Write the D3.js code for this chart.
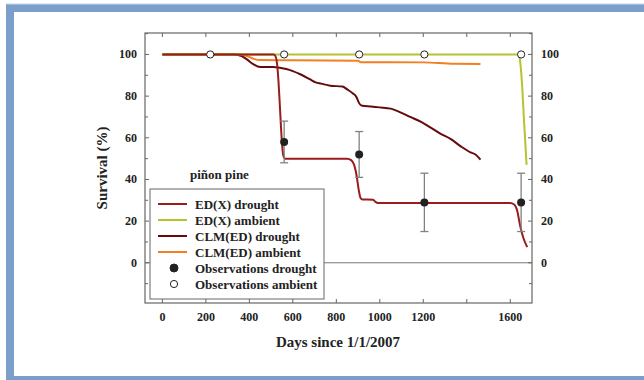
<!DOCTYPE html>
<html lang="en">
<head>
<meta charset="UTF-8">
<title>Survival - piñon pine</title>
<script src="https://d3js.org/d3.v7.min.js"></script>
<style>
    body { margin: 0; background: #fff; }
    svg text { font-family: "Liberation Serif", "Times New Roman", serif; font-weight: bold; fill: #222; }
</style>
</head>
<body>
<svg width="644" height="380"></svg>
<script>
// model curves: [day, survival %]
const edxDrought = [[0,100],[512,100],[520,99.2],[527,96],[534,87],[541,74],[549,59],[556,51.5],[565,50],
    [850,50],[868,49.3],[882,47],[893,42],[903,35],[912,31],[920,30.4],[968,30.3],[978,29.4],[992,28.7],
    [1600,28.7],[1618,28],[1632,25],[1645,18],[1660,12],[1678,7.5]];
const edxAmbient = [[0,100],[1638,100],[1645,97],[1654,86],[1664,67],[1675,47]];
const clmDrought = [[0,100],[330,100],[365,99.2],[390,97.5],[420,95.2],[450,94],[510,94],[540,93.6],
    [570,93],[600,92],[634,90.5],[680,88],[705,86.6],[730,86],[772,85],[828,84.6],[850,83.2],[875,81.4],
    [893,79.5],[903,77],[915,75.5],[960,75],[1000,74.6],[1050,74],[1100,72],[1140,70],[1190,67.6],
    [1232,65],[1278,62],[1325,59.5],[1371,56],[1417,53],[1440,52],[1463,49.5]];
const clmAmbient = [[0,100],[360,100],[390,99.2],[420,97.9],[450,97.3],[600,97.2],[900,97],[912,96.3],
    [1200,96.2],[1340,95.5],[1463,95.4]];

// observations
const obsDroughtDays = [560, 905, 1205, 1650];
const obsDroughtMean = [58, 52, 29, 29];
const obsDroughtLow  = [48, 41, 15, 15];
const obsDroughtHigh = [68, 63, 43, 43];
const obsAmbientDays = [220, 560, 905, 1205, 1650];
const obsAmbientMean = [100, 100, 100, 100, 100];

const xTicks = [0, 200, 400, 600, 800, 1000, 1200, 1400, 1600];
const xTickLabels = ["0", "200", "400", "600", "800", "1000", "1200", "", "1600"];
const yTicks = [0, 20, 40, 60, 80, 100];

const models = [
    { name: "ED(X) drought",  data: edxDrought, color: "#9a1c1c" },
    { name: "ED(X) ambient",  data: edxAmbient, color: "#b5c42e" },
    { name: "CLM(ED) drought", data: clmDrought, color: "#650b0b" },
    { name: "CLM(ED) ambient", data: clmAmbient, color: "#f47f22" }
];

const svg = d3.select("svg");

// blue frame
svg.append("rect").attr("x", 10).attr("y", 8).attr("width", 700).attr("height", 372)
    .attr("fill", "none").attr("stroke", "#7b9fca").attr("stroke-width", 8);
svg.append("line").attr("x1", 6).attr("x2", 644).attr("y1", 4).attr("y2", 4)
    .attr("stroke", "#c5d6ea").attr("stroke-width", 1);

const pLeft = 145, pRight = 532, pTop = 33, pBottom = 303;
const x = d3.scaleLinear().domain([-80, 1700]).range([pLeft, pRight]);
const y = d3.scaleLinear().domain([-19.3, 110.3]).range([pBottom, pTop]);

const axisColor = "#666";

// zero line
svg.append("line")
    .attr("x1", pLeft).attr("x2", pRight)
    .attr("y1", y(0)).attr("y2", y(0))
    .attr("stroke", "#777").attr("stroke-width", 1);

// frame of plot
svg.append("rect").attr("x", pLeft).attr("y", pTop).attr("width", pRight - pLeft).attr("height", pBottom - pTop)
    .attr("fill", "none").attr("stroke", axisColor).attr("stroke-width", 1.2);

// x ticks (inward, top and bottom)
const g = svg.append("g").attr("stroke", axisColor).attr("stroke-width", 1);
xTicks.forEach(t => {
    g.append("line").attr("x1", x(t)).attr("x2", x(t)).attr("y1", pBottom).attr("y2", pBottom - 4);
    g.append("line").attr("x1", x(t)).attr("x2", x(t)).attr("y1", pTop).attr("y2", pTop + 4);
});
// y ticks every 10, inward on both sides
d3.range(-10, 111, 10).forEach(t => {
    const len = t % 20 === 0 ? 4 : 3;
    g.append("line").attr("x1", pLeft).attr("x2", pLeft + len).attr("y1", y(t)).attr("y2", y(t));
    g.append("line").attr("x1", pRight).attr("x2", pRight - len).attr("y1", y(t)).attr("y2", y(t));
});

svg.selectAll(".xlab").data(xTicks).enter().append("text")
    .attr("x", d => x(d)).attr("y", 321)
    .attr("text-anchor", "middle").style("font-size", "12px")
    .text((d, i) => xTickLabels[i]);

svg.selectAll(".ylabl").data(yTicks).enter().append("text")
    .attr("x", 137).attr("y", d => y(d) + 4)
    .attr("text-anchor", "end").style("font-size", "12px")
    .text(d => d);
svg.selectAll(".ylabr").data(yTicks).enter().append("text")
    .attr("x", 541).attr("y", d => y(d) + 4)
    .attr("text-anchor", "start").style("font-size", "12px")
    .text(d => d);

// axis titles
svg.append("text").attr("x", 338).attr("y", 347).attr("text-anchor", "middle")
    .style("font-size", "15px").text("Days since 1/1/2007");
svg.append("text").attr("transform", "translate(107,168) rotate(-90)").attr("text-anchor", "middle")
    .style("font-size", "15px").text("Survival (%)");

svg.append("text").attr("x", 190).attr("y", 179).style("font-size", "13px").text("piñon pine");

// model lines
const line = d3.line().x(d => x(d[0])).y(d => y(d[1])).curve(d3.curveMonotoneX);
models.slice().reverse().forEach(m => {
    svg.append("path").datum(m.data)
        .attr("d", line)
        .attr("fill", "none")
        .attr("stroke", m.color)
        .attr("stroke-width", 2);
});

// error bars
obsDroughtDays.forEach((d, i) => {
    const eb = svg.append("g").attr("stroke", "#808080").attr("stroke-width", 1.3);
    eb.append("line").attr("x1", x(d)).attr("x2", x(d)).attr("y1", y(obsDroughtLow[i])).attr("y2", y(obsDroughtHigh[i]));
    eb.append("line").attr("x1", x(d) - 4).attr("x2", x(d) + 4).attr("y1", y(obsDroughtLow[i])).attr("y2", y(obsDroughtLow[i]));
    eb.append("line").attr("x1", x(d) - 4).attr("x2", x(d) + 4).attr("y1", y(obsDroughtHigh[i])).attr("y2", y(obsDroughtHigh[i]));
});
svg.selectAll(".obsd").data(obsDroughtDays).enter().append("circle")
    .attr("cx", d => x(d)).attr("cy", (d, i) => y(obsDroughtMean[i]))
    .attr("r", 4).attr("fill", "#222");
svg.selectAll(".obsa").data(obsAmbientDays).enter().append("circle")
    .attr("cx", d => x(d)).attr("cy", (d, i) => y(obsAmbientMean[i]))
    .attr("r", 3.6).attr("fill", "#fff").attr("stroke", "#222").attr("stroke-width", 1);

// legend
const legend = svg.append("g").attr("transform", "translate(150,189)");
legend.append("rect").attr("width", 174).attr("height", 110)
    .attr("fill", "#fff").attr("stroke", axisColor).attr("stroke-width", 1);
const legendItems = models.map(m => ({ name: m.name, color: m.color, type: "line" }))
    .concat([{ name: "Observations drought", type: "filled" }, { name: "Observations ambient", type: "open" }]);
const li = legend.selectAll(".legend-item").data(legendItems).enter().append("g")
    .attr("transform", (d, i) => `translate(0, ${15 + i * 16})`);
li.filter(d => d.type === "line").append("line")
    .attr("x1", 8).attr("x2", 37).attr("stroke", d => d.color).attr("stroke-width", 2);
li.filter(d => d.type !== "line").append("circle")
    .attr("cx", 24).attr("r", d => d.type === "filled" ? 4 : 3.6)
    .attr("fill", d => d.type === "filled" ? "#222" : "#fff")
    .attr("stroke", "#222").attr("stroke-width", 1);
li.append("text").attr("x", 45).attr("y", 4.5).style("font-size", "13px").text(d => d.name);
</script>
</body>
</html>
